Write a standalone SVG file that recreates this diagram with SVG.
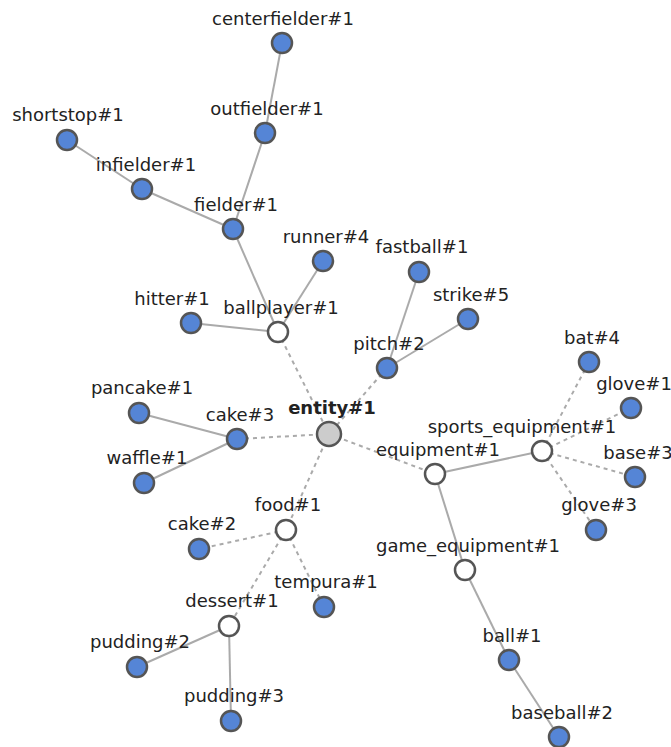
<svg xmlns="http://www.w3.org/2000/svg" width="671" height="747" viewBox="0 0 671 747">
<style>
.e{stroke:#aaaaaa;stroke-width:2;fill:none}
.d{stroke:#aaaaaa;stroke-width:2;fill:none;stroke-dasharray:4,4}
.n{fill:#5585d6;stroke:#555555;stroke-width:2.5}
.h{fill:#ffffff;stroke:#555555;stroke-width:2.5}
.r{fill:#cccccc;stroke:#555555;stroke-width:2.5}
text{font-family:"DejaVu Sans",sans-serif;font-size:18px;fill:#222222;text-anchor:middle}
.b{font-weight:bold}
</style>
<rect width="671" height="747" fill="#ffffff"/>
<g id="connectors">
<line class="e" x1="282" y1="43" x2="265" y2="133"/>
<line class="e" x1="265" y1="133" x2="233" y2="229"/>
<line class="e" x1="67" y1="140" x2="142" y2="189"/>
<line class="e" x1="142" y1="189" x2="233" y2="229"/>
<line class="e" x1="233" y1="229" x2="278" y2="332"/>
<line class="e" x1="323" y1="261" x2="278" y2="332"/>
<line class="e" x1="191" y1="323" x2="278" y2="332"/>
<line class="e" x1="419" y1="272" x2="387" y2="368"/>
<line class="e" x1="468" y1="319" x2="387" y2="368"/>
<line class="e" x1="139" y1="413" x2="237" y2="439"/>
<line class="e" x1="144" y1="483" x2="237" y2="439"/>
<line class="e" x1="435" y1="474" x2="542" y2="451"/>
<line class="e" x1="435" y1="474" x2="465" y2="570"/>
<line class="e" x1="465" y1="570" x2="509" y2="660"/>
<line class="e" x1="509" y1="660" x2="559" y2="737"/>
<line class="e" x1="229" y1="626" x2="137" y2="667"/>
<line class="e" x1="229" y1="626" x2="231" y2="721"/>
<line class="d" x1="278" y1="332" x2="329" y2="434"/>
<line class="d" x1="387" y1="368" x2="329" y2="434"/>
<line class="d" x1="237" y1="439" x2="329" y2="434"/>
<line class="d" x1="329" y1="434" x2="435" y2="474"/>
<line class="d" x1="329" y1="434" x2="286" y2="530"/>
<line class="d" x1="286" y1="530" x2="199" y2="549"/>
<line class="d" x1="286" y1="530" x2="324" y2="607"/>
<line class="d" x1="286" y1="530" x2="229" y2="626"/>
<line class="d" x1="542" y1="451" x2="589" y2="362"/>
<line class="d" x1="542" y1="451" x2="631" y2="408"/>
<line class="d" x1="542" y1="451" x2="635" y2="477"/>
<line class="d" x1="542" y1="451" x2="596" y2="530"/>
</g>
<g id="centerfielder1"><circle class="n" cx="282" cy="43" r="10"/><text x="283" y="25">centerfielder#1</text></g>
<g id="outfielder1"><circle class="n" cx="265" cy="133" r="10"/><text x="267" y="115">outfielder#1</text></g>
<g id="shortstop1"><circle class="n" cx="67" cy="140" r="10"/><text x="68" y="121">shortstop#1</text></g>
<g id="infielder1"><circle class="n" cx="142" cy="189" r="10"/><text x="146" y="171">infielder#1</text></g>
<g id="fielder1"><circle class="n" cx="233" cy="229" r="10"/><text x="236" y="211">fielder#1</text></g>
<g id="runner4"><circle class="n" cx="323" cy="261" r="10"/><text x="326" y="243">runner#4</text></g>
<g id="hitter1"><circle class="n" cx="191" cy="323" r="10"/><text x="172" y="305">hitter#1</text></g>
<g id="ballplayer1"><circle class="h" cx="278" cy="332" r="10"/><text x="281" y="314">ballplayer#1</text></g>
<g id="fastball1"><circle class="n" cx="419" cy="272" r="10"/><text x="422" y="253">fastball#1</text></g>
<g id="strike5"><circle class="n" cx="468" cy="319" r="10"/><text x="471" y="301">strike#5</text></g>
<g id="pitch2"><circle class="n" cx="387" cy="368" r="10"/><text x="389" y="350">pitch#2</text></g>
<g id="entity1"><circle class="r" cx="329" cy="434" r="12"/><text class="b" x="332" y="414">entity#1</text></g>
<g id="cake3"><circle class="n" cx="237" cy="439" r="10"/><text x="240" y="421">cake#3</text></g>
<g id="pancake1"><circle class="n" cx="139" cy="413" r="10"/><text x="142" y="394">pancake#1</text></g>
<g id="waffle1"><circle class="n" cx="144" cy="483" r="10"/><text x="147" y="464">waffle#1</text></g>
<g id="food1"><circle class="h" cx="286" cy="530" r="10"/><text x="288" y="511">food#1</text></g>
<g id="cake2"><circle class="n" cx="199" cy="549" r="10"/><text x="202" y="530">cake#2</text></g>
<g id="tempura1"><circle class="n" cx="324" cy="607" r="10"/><text x="326" y="588">tempura#1</text></g>
<g id="dessert1"><circle class="h" cx="229" cy="626" r="10"/><text x="232" y="607">dessert#1</text></g>
<g id="pudding2"><circle class="n" cx="137" cy="667" r="10"/><text x="140" y="648">pudding#2</text></g>
<g id="pudding3"><circle class="n" cx="231" cy="721" r="10"/><text x="234" y="702">pudding#3</text></g>
<g id="equipment1"><circle class="h" cx="435" cy="474" r="10"/><text x="438" y="456">equipment#1</text></g>
<g id="sports_equipment1"><circle class="h" cx="542" cy="451" r="10"/><text x="522" y="433">sports_equipment#1</text></g>
<g id="bat4"><circle class="n" cx="589" cy="362" r="10"/><text x="592" y="344">bat#4</text></g>
<g id="glove1"><circle class="n" cx="631" cy="408" r="10"/><text x="634" y="390">glove#1</text></g>
<g id="base3"><circle class="n" cx="635" cy="477" r="10"/><text x="638" y="459">base#3</text></g>
<g id="glove3"><circle class="n" cx="596" cy="530" r="10"/><text x="599" y="511">glove#3</text></g>
<g id="game_equipment1"><circle class="h" cx="465" cy="570" r="10"/><text x="468" y="552">game_equipment#1</text></g>
<g id="ball1"><circle class="n" cx="509" cy="660" r="10"/><text x="512" y="642">ball#1</text></g>
<g id="baseball2"><circle class="n" cx="559" cy="737" r="10"/><text x="562" y="719">baseball#2</text></g>
</svg>
